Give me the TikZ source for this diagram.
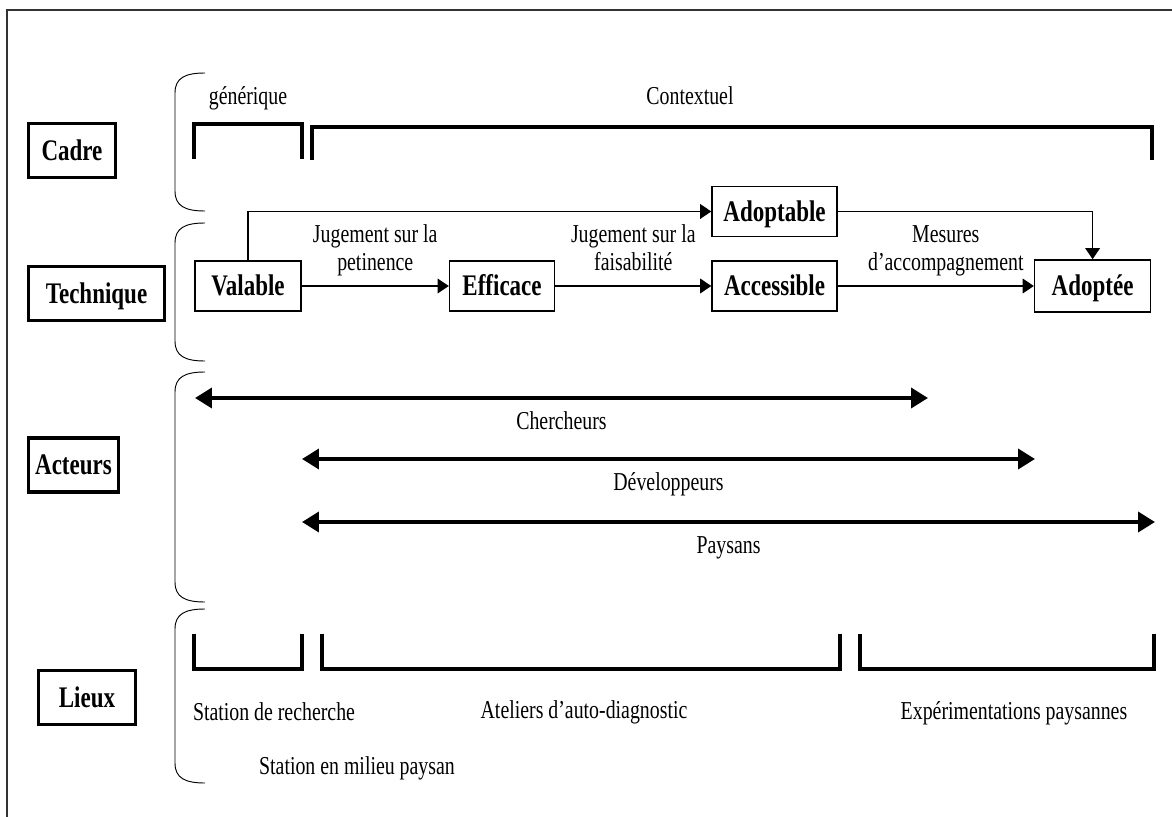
\documentclass[tikz,border=0pt]{standalone}
\usepackage{fontspec}
\setmainfont{Liberation Serif}[FakeStretch=0.77]
\usetikzlibrary{arrows.meta,positioning}

\begin{document}
\begin{tikzpicture}[
        x=0.03cm, y=-0.03cm,
        every node/.style={font=\fontsize{22}{24.7}\selectfont, inner sep=0pt},
        category/.style={rectangle, draw, line width=2.6pt, minimum height=1.62cm, text height=17pt, text depth=0pt, font=\fontsize{25.5}{29}\selectfont\bfseries},
        stage/.style={rectangle, draw, line width=1.3pt, minimum height=1.5cm, text height=17pt, text depth=0pt, font=\fontsize{25.5}{29}\selectfont\bfseries},
        arrow/.style={-{Triangle[length=9.5pt, width=12.5pt]}, line width=1.2pt},
        actor/.style={{Triangle[length=14.5pt, width=17pt]}-{Triangle[length=14.5pt, width=17pt]}, line width=3.4pt},
        bracket/.style={line width=2.6pt},
        brace/.style={line width=0.8pt},
        frame/.style={line width=1pt, black!80},
        txt/.style={anchor=base}
    ]
        \useasboundingbox (0,0) rectangle (1172,817);
        \draw[frame] (1172,10) -- (7,10) -- (7,817);

        % Left column
        \node[category, minimum width=2.61cm] (cadre) at (72,150.5) {Cadre};
        \node[category, minimum width=4.08cm] (technique) at (96.5,293.5) {Technique};
        \node[category, minimum width=2.7cm] (acteurs) at (73.5,465) {Acteurs};
        \node[category, minimum width=2.91cm] (lieux) at (87,697.5) {Lieux};

        % Braces
        \foreach \ya/\yb in {73/211, 223/361, 372/602, 609/783}
            \draw[brace] (205,\ya) .. controls (185,\ya) and (175,\ya+5) .. (175,\ya+20) -- (175,\yb-20) .. controls (175,\yb-5) and (185,\yb) .. (205,\yb);

        % Cadre
        \draw[bracket] (194,159) -- (194,124) -- (302,124) -- (302,159);
        \draw[bracket] (312,160) -- (312,127) -- (1152,127) -- (1152,160);
        \node[txt] (generique) at (248,105) {générique};
        \node[txt] (contextuel) at (690,105) {Contextuel};

        % Technique
        \node[stage, minimum width=3.18cm] (valable) at (248,286) {Valable};
        \node[stage, minimum width=3.15cm, right=4.41cm of valable] (efficace) {Efficace};
        \node[stage, minimum width=3.75cm, right=4.68cm of efficace] (accessible) {Accessible};
        \node[stage, minimum width=3.75cm, above=0.69cm of accessible] (adoptable) {Adoptable};
        \node[stage, minimum width=3.48cm, minimum height=1.56cm, right=5.88cm of accessible] (adoptee) {Adoptée};

        \draw[arrow] (valable) -- (efficace) node[midway, anchor=base, yshift=0.45cm, align=center] (pertinence) {Jugement sur la\\petinence};
        \draw[arrow] (efficace) -- (accessible) node[midway, anchor=base, yshift=0.45cm, align=center] (faisabilite) {Jugement sur la\\faisabilité};
        \draw[arrow] (accessible) -- (adoptee) node[midway, anchor=base, yshift=0.45cm, xshift=0.3cm, align=center] (mesures) {Mesures\\d'accompagnement};
        \draw[arrow] (valable.north) |- (adoptable.west);
        \draw[arrow] (adoptable.east) -| (adoptee.north);

        % Acteurs
        \coordinate (chercheurs-l) at (195,398);
        \coordinate (chercheurs-r) at (928,398);
        \coordinate (developpeurs-l) at (302,459);
        \coordinate (developpeurs-r) at (1035,459);
        \coordinate (paysans-l) at (302,522);
        \coordinate (paysans-r) at (1155,522);
        \draw[actor] (chercheurs-l) -- (chercheurs-r) node[midway, anchor=base, yshift=-0.93cm] (chercheurs) {Chercheurs};
        \draw[actor] (developpeurs-l) -- (developpeurs-r) node[midway, anchor=base, yshift=-0.93cm] (developpeurs) {Développeurs};
        \draw[actor] (paysans-l) -- (paysans-r) node[midway, anchor=base, yshift=-0.93cm] (paysans) {Paysans};

        % Lieux
        \draw[bracket] (194,634) -- (194,669) -- (302,669) -- (302,634);
        \draw[bracket] (322,634) -- (322,669) -- (840,669) -- (840,634);
        \draw[bracket] (860,634) -- (860,669) -- (1154,669) -- (1154,634);
        \node[txt] (recherche) at (274,720) {Station de recherche};
        \node[txt] (ateliers) at (584,718) {Ateliers d'auto-diagnostic};
        \node[txt] (experimentations) at (1014,719) {Expérimentations paysannes};
        \node[txt] (milieu) at (357,774) {Station en milieu paysan};
    \end{tikzpicture}
\end{document}
